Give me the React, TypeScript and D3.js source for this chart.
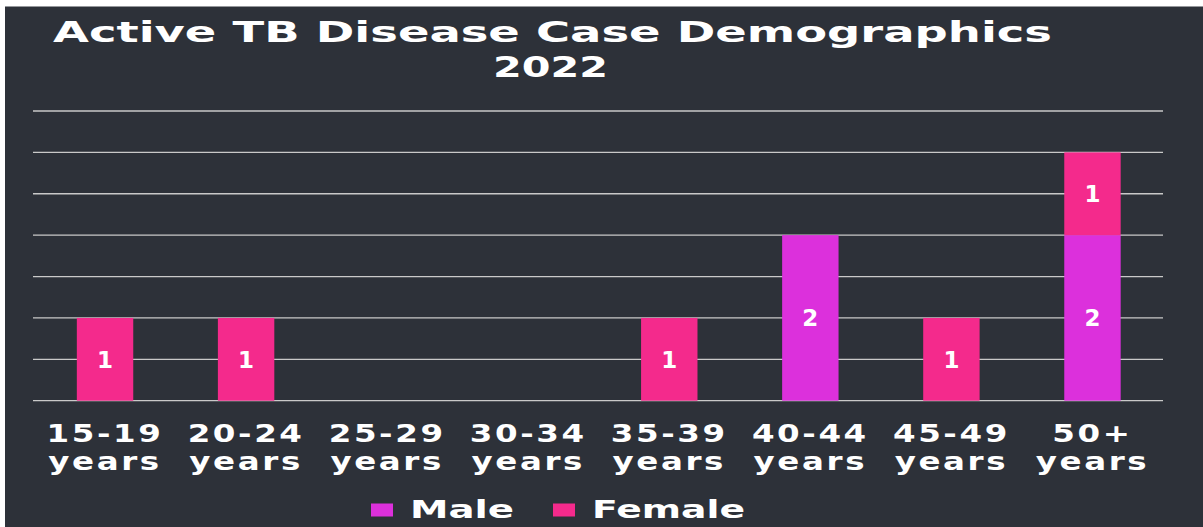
import React, { useRef, useEffect } from 'react';
import * as d3 from 'd3';

// age groups along the bottom
const categories = ['15-19', '20-24', '25-29', '30-34', '35-39', '40-44', '45-49', '50+'];
const maleValues = [0, 0, 0, 0, 0, 2, 0, 2];
const femaleValues = [1, 1, 0, 0, 1, 0, 1, 1];
const seriesNames = ['Male', 'Female'];
const seriesColors = ['#dc30dc', '#f42a8c'];
const titleLines = ['Active TB Disease Case Demographics', '2022'];

const App = () => {
  const svgRef = useRef<SVGSVGElement>(null);

  useEffect(() => {
    const width = 1203;
    const height = 527;
    const font = '"DejaVu Sans", sans-serif';

    const svg = d3.select(svgRef.current);
    svg.selectAll('*').remove();

    // page strip and dark panel
    svg.append('rect').attr('width', width).attr('height', height).attr('fill', '#ffffff');
    svg.append('rect')
      .attr('x', 5).attr('y', 6.5)
      .attr('width', width - 5).attr('height', height - 6.5)
      .attr('fill', '#2d3139');

    const x = d3.scaleBand<string>()
      .domain(categories)
      .range([34.5, 1163])
      .paddingInner(0.6)
      .paddingOuter(0.3);

    const y = d3.scaleLinear().domain([0, 3.5]).range([400.7, 111]);

    // gridlines
    svg.append('g')
      .selectAll('line')
      .data(y.ticks(7))
      .enter().append('line')
      .attr('x1', 33).attr('x2', 1163)
      .attr('y1', (d) => y(d)).attr('y2', (d) => y(d))
      .attr('stroke', '#c9c9c9')
      .attr('stroke-width', 1.3);

    // stacked bars, male at the bottom
    const rows = categories.map((c, i) => ({ cat: c, Male: maleValues[i], Female: femaleValues[i] }));
    const stacked = d3.stack<any>().keys(seriesNames)(rows);

    stacked.forEach((layer, li) => {
      const g = svg.append('g');
      const segs = layer.filter((d) => d[1] - d[0] > 0);
      g.selectAll('rect')
        .data(segs)
        .enter().append('rect')
        .attr('x', (d) => x(d.data.cat)!)
        .attr('width', x.bandwidth())
        .attr('y', (d) => y(d[1]))
        .attr('height', (d) => y(d[0]) - y(d[1]))
        .attr('fill', seriesColors[li]);

      g.selectAll('text')
        .data(segs)
        .enter().append('text')
        .attr('x', (d) => x(d.data.cat)! + x.bandwidth() / 2)
        .attr('y', (d) => y((d[0] + d[1]) / 2))
        .attr('dy', '0.36em')
        .attr('text-anchor', 'middle')
        .style('font-family', font)
        .style('font-weight', 'bold')
        .style('font-size', '23px')
        .style('fill', '#ffffff')
        .text((d) => d[1] - d[0]);
    });

    // category labels, two lines each
    const labels = svg.append('g')
      .style('font-family', font)
      .style('font-weight', 'bold')
      .style('font-size', '25px')
      .style('fill', '#ffffff');
    categories.forEach((c) => {
      const cx = x(c)! + x.bandwidth() / 2;
      [c, 'years'].forEach((line, li) => {
        labels.append('text')
          .attr('transform', `translate(${cx},${li === 0 ? 442 : 470}) scale(1.3,1)`)
          .attr('text-anchor', 'middle')
          .style('letter-spacing', '2px')
          .text(line);
      });
    });

    // title
    const title = svg.append('g')
      .style('font-family', font)
      .style('font-weight', 'bold')
      .style('font-size', '29px')
      .style('fill', '#ffffff');
    title.append('text')
      .attr('x', 53).attr('y', 41.7)
      .attr('textLength', 999)
      .attr('lengthAdjust', 'spacingAndGlyphs')
      .text(titleLines[0]);
    title.append('text')
      .attr('x', 493).attr('y', 77.3)
      .attr('textLength', 115)
      .attr('lengthAdjust', 'spacingAndGlyphs')
      .text(titleLines[1]);

    // legend
    const legend = svg.append('g');
    const legendX = [371, 553];
    const legendW = [104, 153];
    seriesNames.forEach((name, i) => {
      legend.append('rect')
        .attr('x', legendX[i]).attr('y', 503.5)
        .attr('width', 22).attr('height', 13)
        .attr('fill', seriesColors[i]);
      legend.append('text')
        .attr('x', legendX[i] + 39).attr('y', 518.3)
        .attr('textLength', legendW[i])
        .attr('lengthAdjust', 'spacingAndGlyphs')
        .style('font-family', font)
        .style('font-weight', 'bold')
        .style('font-size', '24px')
        .style('fill', '#ffffff')
        .text(name);
    });
  }, []);

  return (
    <svg
      ref={svgRef}
      width={1203}
      height={527}
      style={{ position: 'absolute', left: 0, top: 0, display: 'block' }}
    />
  );
};

export default App;
